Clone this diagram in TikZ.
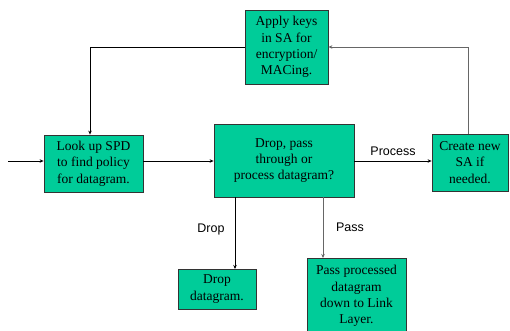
\documentclass[tikz,border=0pt]{standalone}
\usepackage{fontspec}
\setmainfont{Liberation Serif}
\newfontfamily\lab{Liberation Sans}
\usetikzlibrary{arrows.meta}
\definecolor{boxgreen}{HTML}{00CC99}
\begin{document}
\begin{tikzpicture}[x=1pt,y=-1pt,
  proc/.style={draw=black!80,line width=0.8pt,fill=boxgreen,align=center,inner sep=0pt,
    font=\fontsize{13.5}{16.3}\selectfont},
  conn/.style={line width=0.7pt,-{Stealth[length=4pt,width=3.5pt]}},
  lbl/.style={font=\lab\fontsize{12.5}{14}\selectfont}]
\useasboundingbox (0,0) rectangle (510,331);
\node[proc,minimum width=83pt,minimum height=74pt] (apply) at (286.5,47) {Apply keys\\in SA for\\encryption/\\MACing.};
\node[proc,minimum width=99pt,minimum height=57pt] (look) at (93.5,163.5) {Look up SPD\\to find policy\\for datagram.};
\node[proc,minimum width=140pt,minimum height=73pt] (dec) at (284,160.5) {Drop, pass\\through or\\process datagram?};
\node[proc,minimum width=76pt,minimum height=57pt] (create) at (470,162.5) {Create new\\SA if\\needed.};
\node[proc,minimum width=78pt,minimum height=40pt] (drop) at (217,289) {Drop\\datagram.};
\node[proc,minimum width=99pt,minimum height=76pt] (pass) at (356.5,296) {Pass processed\\datagram\\down to Link\\Layer.};
\coordinate (in) at (8,161);
\coordinate (c1) at (468,47);
\coordinate (c2) at (90,47);
\draw[conn] (in) -- (in -| look.west);
\draw[conn] (look.east |- 0,161) -- (dec.west |- 0,161);
\draw[conn] (dec.east |- 0,161) -- node[lbl,above=2pt]{Process} (create.west |- 0,161);
\draw[conn,black!60] (create.north -| c1) -- (c1) -- (apply.east);
\draw[conn] (apply.west) -- (c2) -- (c2 |- look.north);
\draw[conn] (235,197) -- (235,269);
\draw[conn,black!60] (323,197) -- (323,258);
\node[lbl] (droplbl) at (211,229) {Drop};
\node[lbl] (passlbl) at (350,227) {Pass};
\end{tikzpicture}
\end{document}
